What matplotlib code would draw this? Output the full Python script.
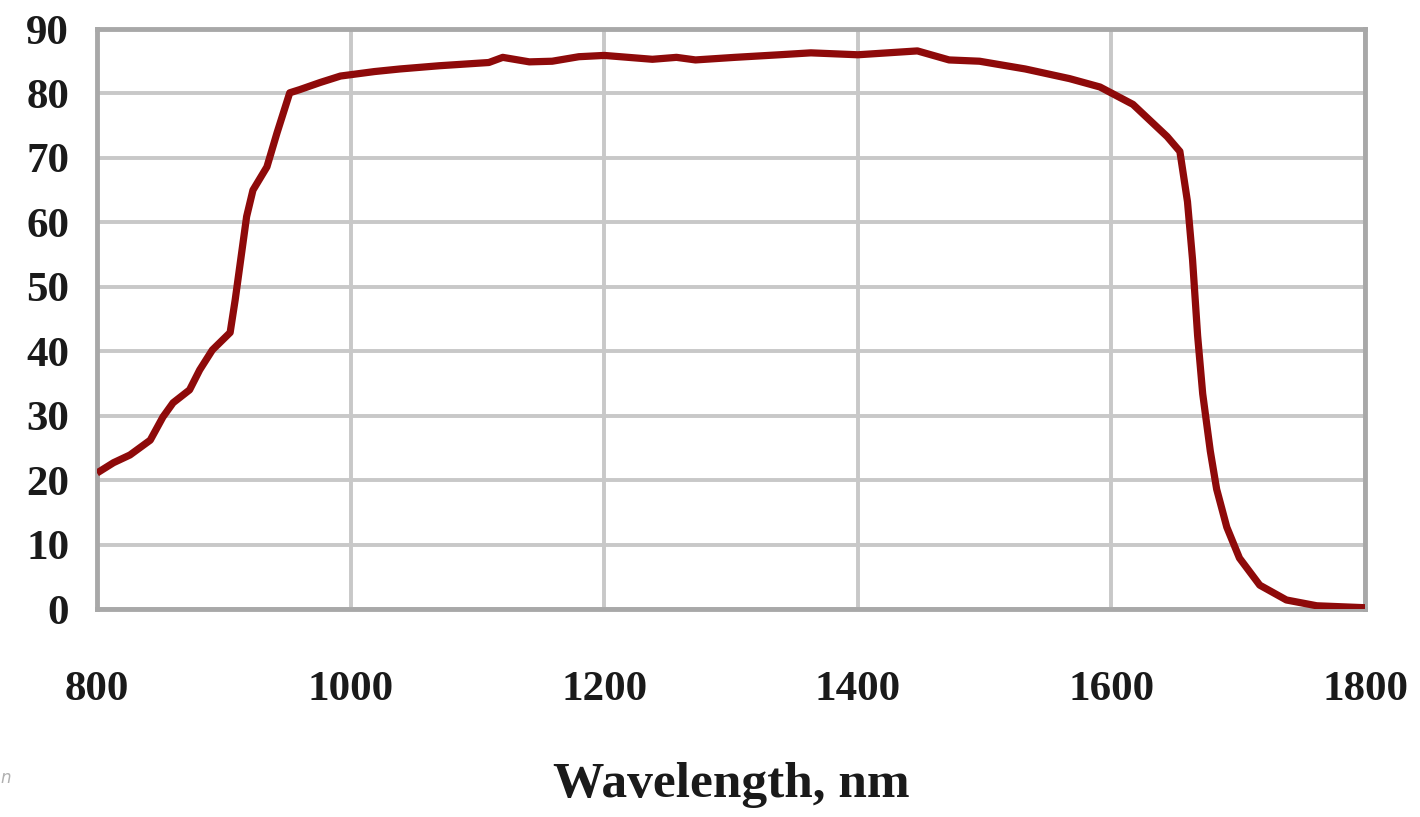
import matplotlib
matplotlib.use("Agg")
import matplotlib.pyplot as plt

wavelength = [800, 813, 826, 842, 852, 860, 873, 881, 891, 905, 909, 918, 923, 934, 942,
              952, 960, 976, 992, 1019, 1039, 1070, 1109, 1120, 1141, 1159, 1180, 1200,
              1238, 1257, 1272, 1303, 1338, 1363, 1400, 1447, 1472, 1496, 1532, 1567,
              1591, 1617, 1644, 1654, 1660, 1664, 1668, 1672, 1678, 1683, 1691, 1701,
              1717, 1738, 1762, 1800]
transmission = [21.1, 22.7, 23.9, 26.2, 29.8, 32.0, 34.0, 37.1, 40.2, 42.9, 48.0, 60.9,
                65.0, 68.6, 73.9, 80.1, 80.6, 81.7, 82.7, 83.4, 83.8, 84.3, 84.8, 85.6,
                84.9, 85.0, 85.7, 85.9, 85.3, 85.6, 85.2, 85.6, 86.0, 86.3, 86.0, 86.6,
                85.2, 85.0, 83.8, 82.3, 81.0, 78.3, 73.3, 71.0, 63.2, 54.2, 42.4, 33.4,
                24.5, 18.6, 12.7, 7.9, 3.7, 1.4, 0.5, 0.2]
x_ticks = [800, 1000, 1200, 1400, 1600, 1800]
y_ticks = [0, 10, 20, 30, 40, 50, 60, 70, 80, 90]
x_label = "Wavelength, nm"

fig = plt.figure(figsize=(14.2, 8.17), dpi=100)
ax = fig.add_axes([97/1420, 1-609/817, (1365-97)/1420, (609-29)/817])
ax.plot(wavelength, transmission, color="#8e0a0a", linewidth=5.2, solid_capstyle="butt",
        solid_joinstyle="round", zorder=3)
ax.set_xlim(800, 1800)
ax.set_ylim(0, 90)
ax.set_xticks(x_ticks)
ax.set_yticks(y_ticks)
ax.grid(True, color="#c8c8c8", linewidth=2.8, zorder=0)
ax.set_axisbelow(True)
for s in ax.spines.values():
    s.set_color("#a8a8a8")
    s.set_linewidth(3.5)
ax.tick_params(length=0)
ax.tick_params(axis="y", pad=20)
ax.tick_params(axis="x", pad=45)
for lab in ax.get_xticklabels() + ax.get_yticklabels():
    lab.set_fontfamily("Liberation Serif")
    lab.set_fontweight("bold")
    lab.set_fontsize(31)
    lab.set_color("#1a1a1a")
ax.set_xlabel(x_label, family="Liberation Serif", weight="bold", size=37,
              color="#1a1a1a", labelpad=38)
fig.text(0.0, 1-778/817, "n", style="italic", color="#b0b0b0", size=12,
         ha="left", va="center")
fig.savefig("out.png", dpi=100, facecolor="white")
